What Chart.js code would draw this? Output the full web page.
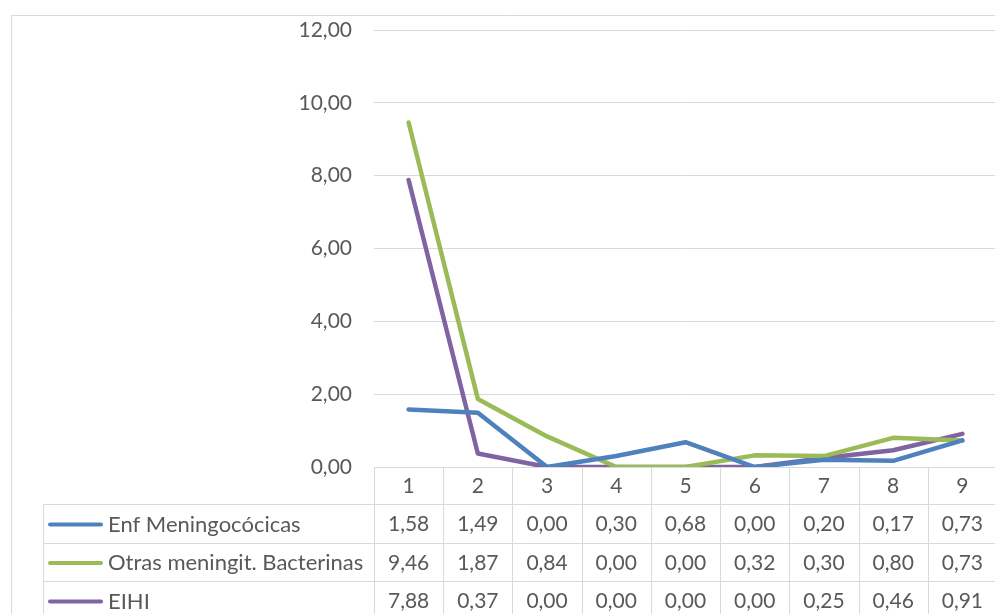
<!DOCTYPE html>
<html>
<head>
<meta charset="utf-8">
<script src="https://cdn.jsdelivr.net/npm/chart.js@4/dist/chart.umd.min.js"></script>
<style>
  html, body { margin: 0; padding: 0; background: #fff; overflow: hidden; }
</style>
</head>
<body>
<canvas id="chart" width="1000" height="614"></canvas>
<script>
// datos
const categorias = ["1", "2", "3", "4", "5", "6", "7", "8", "9"];
const enfMeningococicas = [1.58, 1.49, 0.00, 0.30, 0.68, 0.00, 0.20, 0.17, 0.73];
const otrasMeningit = [9.46, 1.87, 0.84, 0.00, 0.00, 0.32, 0.30, 0.80, 0.73];
const eihi = [7.88, 0.37, 0.00, 0.00, 0.00, 0.00, 0.25, 0.46, 0.91];
const nombres = ["Enf Meningocócicas", "Otras meningit. Bacterinas", "EIHI"];
const colores = ["#4f81bd", "#9bbb59", "#8064a2"];

const fuente = "Lato";
const gris = "#595959";
const linea = "#d9d9d9";
const fmt = v => v.toFixed(2).replace(".", ",");

// tabla de datos bajo el eje, al estilo Excel
const tablaDatos = {
  id: "tablaDatos",
  beforeDraw(chart) {
    const ctx = chart.ctx;
    ctx.save();
    ctx.strokeStyle = linea;
    ctx.lineWidth = 1;
    ctx.beginPath();
    ctx.moveTo(11.5, chart.height);
    ctx.lineTo(11.5, 15.5);
    ctx.lineTo(chart.width, 15.5);
    ctx.stroke();
    ctx.restore();
  },
  afterDraw(chart) {
    const ctx = chart.ctx;
    const x = chart.scales.x;
    const area = chart.chartArea;
    const paso = (area.right - area.left) / categorias.length;
    const filas = [467, 504, 543, 581, 620];
    const izq = 43;
    const series = chart.data.datasets;

    ctx.save();
    ctx.strokeStyle = linea;
    ctx.lineWidth = 1;
    ctx.beginPath();
    // líneas horizontales
    for (let r = 1; r < filas.length; r++) {
      ctx.moveTo(izq, filas[r] + 0.5);
      ctx.lineTo(chart.width, filas[r] + 0.5);
    }
    // borde izquierdo de la leyenda
    ctx.moveTo(izq + 0.5, filas[1]);
    ctx.lineTo(izq + 0.5, chart.height);
    // columnas
    for (let i = 0; i <= categorias.length; i++) {
      const xx = Math.round(area.left + i * paso) + 0.5;
      ctx.moveTo(xx, filas[0]);
      ctx.lineTo(xx, chart.height);
    }
    ctx.stroke();

    ctx.fillStyle = gris;
    ctx.font = "21px " + fuente;
    ctx.textBaseline = "middle";
    ctx.textAlign = "center";
    categorias.forEach((c, i) => {
      ctx.fillText(c, x.getPixelForValue(i), (filas[0] + filas[1]) / 2 + 1);
    });
    series.forEach((ds, s) => {
      const yc = (filas[s + 1] + filas[s + 2]) / 2 + 1;
      ctx.textAlign = "center";
      ctx.font = "21px " + fuente;
      ds.data.forEach((v, i) => {
        ctx.fillText(fmt(v), x.getPixelForValue(i), yc);
      });
      // muestra de la leyenda
      ctx.strokeStyle = ds.borderColor;
      ctx.lineWidth = 4;
      ctx.lineCap = "round";
      ctx.beginPath();
      ctx.moveTo(50, yc);
      ctx.lineTo(101, yc);
      ctx.stroke();
      ctx.textAlign = "left";
      ctx.font = "22px " + fuente;
      ctx.fillText(ds.label, 108, yc);
    });
    ctx.restore();
  }
};

new Chart(document.getElementById("chart"), {
  type: "line",
  data: {
    labels: categorias,
    datasets: [enfMeningococicas, otrasMeningit, eihi].map((d, i) => ({
      label: nombres[i],
      data: d,
      borderColor: colores[i],
      backgroundColor: colores[i],
      borderWidth: 4.5,
      pointRadius: 0,
      tension: 0,
      borderCapStyle: "round",
      borderJoinStyle: "round"
    }))
  },
  options: {
    responsive: false,
    animation: false,
    layout: { padding: { top: 30, bottom: 147, right: 3, left: 0 } },
    plugins: { legend: { display: false }, tooltip: { enabled: false } },
    scales: {
      x: { display: false, offset: true },
      y: {
        min: 0,
        max: 12,
        afterFit(scale) {
          scale.width = 374;
          scale.paddingTop = 0;
          scale.paddingBottom = 0;
          scale.paddingLeft = 0;
          scale.paddingRight = 0;
        },
        border: { display: false },
        grid: { color: linea, lineWidth: 1, drawTicks: false },
        ticks: {
          stepSize: 2,
          padding: 22,
          color: gris,
          font: { family: fuente, size: 21 },
          callback: v => fmt(v)
        }
      }
    }
  },
  plugins: [tablaDatos]
});
</script>
</body>
</html>
